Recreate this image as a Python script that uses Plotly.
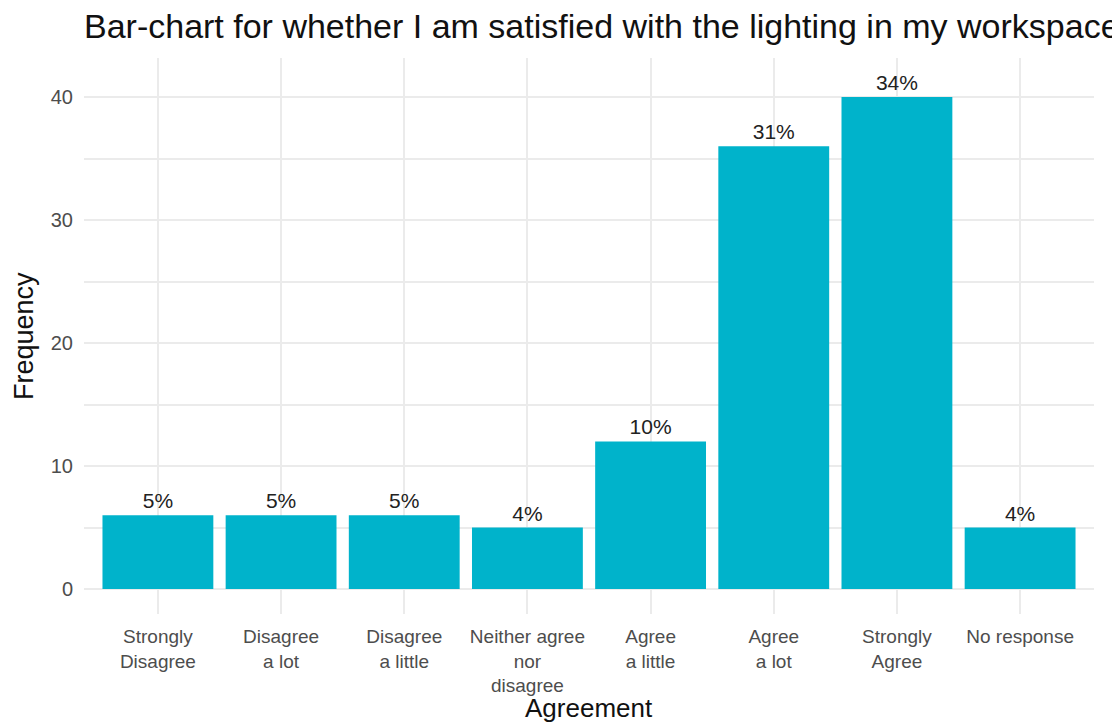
import plotly.graph_objects as go

categories = ["Strongly<br>Disagree", "Disagree<br>a lot", "Disagree<br>a little",
              "Neither agree<br>nor<br>disagree", "Agree<br>a little", "Agree<br>a lot",
              "Strongly<br>Agree", "No response"]
frequency = [6, 6, 6, 5, 12, 36, 40, 5]
pct_labels = ["5%", "5%", "5%", "4%", "10%", "31%", "34%", "4%"]
y_ticks = [0, 10, 20, 30, 40]

FONT = "Liberation Sans, Arial, sans-serif"
GRID = "#EBEBEB"

# page body has an 8px margin, so the figure is sized to fit the 1120x723 window
W, H = 1112, 715
L, R, T, B = 76, 26, 50, 109
PW, PH = W - L - R, H - T - B

fig = go.Figure()
fig.add_trace(go.Bar(
    x=categories, y=frequency, text=pct_labels,
    textposition="outside", cliponaxis=False,
    textfont=dict(family=FONT, size=21, color="#222222"),
    marker=dict(color="#00B3CB", line=dict(width=0)),
    width=0.9,
))

fig.update_layout(
    width=W, height=H,
    margin=dict(l=L, r=R, t=T, b=B),
    paper_bgcolor="white", plot_bgcolor="white",
    showlegend=False,
    uniformtext=dict(mode=False),
    title=dict(text="Bar-chart for whether I am satisfied with the lighting in my workspace",
               font=dict(family=FONT, size=34, color="#111111"),
               xref="paper", x=0, xanchor="left",
               yref="container", y=1 - 18 / H, yanchor="middle"),
    xaxis=dict(
        type="category", range=[-0.6, 7.6], automargin=False,
        showgrid=True, gridcolor=GRID, gridwidth=2,
        zeroline=False, showline=False, ticks="",
        ticklabelstandoff=9,
        tickfont=dict(family=FONT, size=19, color="#4D4D4D"),
    ),
    yaxis=dict(
        range=[-2.03, 43.17], tickvals=y_ticks, automargin=False,
        showgrid=True, gridcolor=GRID, gridwidth=2,
        minor=dict(dtick=5, tick0=0, showgrid=True, gridcolor=GRID, gridwidth=1.5),
        zeroline=False, showline=False, ticks="",
        ticklabelstandoff=10,
        tickfont=dict(family=FONT, size=20, color="#4D4D4D"),
    ),
    annotations=[
        dict(text="Agreement", xref="paper", yref="paper", x=0.5, y=-94 / PH,
             xanchor="center", yanchor="middle", showarrow=False,
             font=dict(family=FONT, size=26, color="#111111")),
        dict(text="Frequency", xref="paper", yref="paper", x=-60 / PW, y=0.5,
             xanchor="center", yanchor="middle", showarrow=False, textangle=-90,
             font=dict(family=FONT, size=27, color="#111111")),
    ],
)

fig.write_html("out.html")
